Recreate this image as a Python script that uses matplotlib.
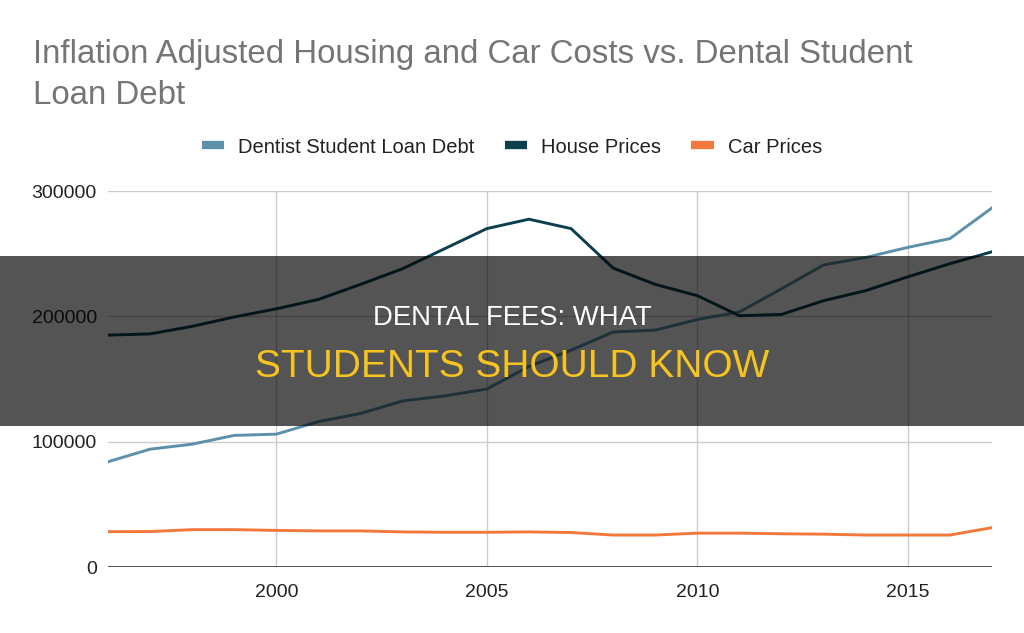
import matplotlib
matplotlib.use("Agg")
import matplotlib.pyplot as plt
from matplotlib.lines import Line2D
from matplotlib.patches import Rectangle

plt.rcParams['font.family'] = ['Liberation Sans', 'DejaVu Sans']

# Data
years = list(range(1996, 2018))
dentist_debt = [84000, 94000, 98000, 105000, 106000, 116000, 122500, 132500, 136500, 142000,
                160000, 173000, 187500, 189000, 197500, 203500, 222000, 241000, 247000, 255000,
                262000, 286500]
house_prices = [185000, 186000, 192000, 199500, 206000, 213500, 225500, 238000, 254000, 270000,
                277500, 270000, 238500, 225500, 216500, 200500, 201500, 212500, 220500, 231500,
                242000, 251500]
car_prices = [28200, 28300, 29800, 29800, 29200, 28800, 28800, 28000, 27700, 27700,
              28000, 27500, 25500, 25500, 27000, 27000, 26500, 26200, 25500, 25500,
              25500, 31400]

series_names = ['Dentist Student Loan Debt', 'House Prices', 'Car Prices']
colors = ['#5d91ab', '#0b3f50', '#f2793b']

fig = plt.figure(figsize=(10.24, 6.33), dpi=100)
ax = fig.add_axes([108/1024, 1 - 567/633, 884/1024, 376/633])

ax.plot(years, dentist_debt, color=colors[0], lw=2.1, zorder=3)
ax.plot(years, house_prices, color=colors[1], lw=2.1, zorder=3)
ax.plot(years, car_prices, color=colors[2], lw=2.1, zorder=3)

ax.set_xlim(1996, 2017)
ax.set_ylim(0, 300000)
ax.set_yticks([0, 100000, 200000, 300000])
ax.set_yticklabels(['0', '100000', '200000', '300000'])
ax.set_xticks([2000, 2005, 2010, 2015])
ax.grid(True, color='#cccccc', lw=1)
ax.axhline(0, color='#333333', lw=1.2, zorder=2)
for s in ax.spines.values():
    s.set_visible(False)
ax.tick_params(axis='both', length=0, labelsize=14, colors='#222222')
ax.tick_params(axis='x', pad=12)
ax.tick_params(axis='y', pad=8)

# Title
fig.text(33/1024, 1 - 63/633, 'Inflation Adjusted Housing and Car Costs vs. Dental Student',
         fontsize=23.8, color='#757575', va='baseline', ha='left')
fig.text(33/1024, 1 - 104/633, 'Loan Debt',
         fontsize=23.8, color='#757575', va='baseline', ha='left')

# Legend
handles = [Line2D([], [], color=c, lw=6, solid_capstyle='butt') for c in colors]
fig.legend(handles, series_names, loc='center', bbox_to_anchor=(0.5, 1 - 147/633),
           ncol=3, frameon=False, fontsize=14.5, handlelength=1.1, handletextpad=0.7,
           columnspacing=1.5, labelcolor='#222222')

# Banner overlay
fig.patches.append(Rectangle((0, 1 - 426/633), 1, 170/633, transform=fig.transFigure,
                             facecolor='black', alpha=0.67, zorder=10))
fig.text(0.5, 1 - 318/633, 'DENTAL FEES: WHAT', color='white', fontsize=19.8,
         ha='center', va='center', zorder=11)
fig.text(0.5, 1 - 367/633, 'STUDENTS SHOULD KNOW', color='#f6c320', fontsize=28,
         ha='center', va='center', zorder=11)

fig.savefig('out.png', dpi=100)
